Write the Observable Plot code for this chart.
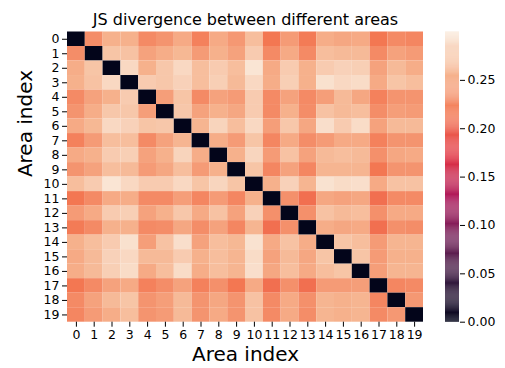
<!DOCTYPE html>
<html>
<head>
<meta charset="utf-8">
<script src="https://cdn.jsdelivr.net/npm/d3@7"></script>
<script src="https://cdn.jsdelivr.net/npm/@observablehq/plot@0.6"></script>
<style>
  html, body { margin: 0; padding: 0; background: #fff; }
  #wrap { position: relative; width: 505px; height: 368px; font-family: "DejaVu Sans", sans-serif; }
  #wrap svg { position: absolute; left: 0; top: 0; font-family: "DejaVu Sans", sans-serif; }
</style>
</head>
<body>
<div id="wrap"></div>
<script>
const title = "JS divergence between different areas";
const axisLabel = "Area index";
const areas = d3.range(20);
const colorTicks = [0, 0.05, 0.10, 0.15, 0.20, 0.25];
const colorMax = 0.30;
// rocket colormap stops
const rocketStops = ["#03051a", "#35193e", "#701f57", "#ad1759", "#e13342", "#f37651", "#f6b48f", "#faebdd"];

// JS divergence matrix (row i, column j)
const divergence = [
  [0, 0.230, 0.255, 0.255, 0.228, 0.235, 0.250, 0.222, 0.250, 0.238, 0.265, 0.215, 0.240, 0.218, 0.252, 0.248, 0.250, 0.215, 0.228, 0.225],
  [0.230, 0, 0.270, 0.268, 0.245, 0.252, 0.260, 0.240, 0.255, 0.245, 0.275, 0.228, 0.250, 0.228, 0.265, 0.262, 0.262, 0.228, 0.245, 0.240],
  [0.252, 0.270, 0, 0.285, 0.255, 0.272, 0.285, 0.265, 0.275, 0.265, 0.295, 0.250, 0.275, 0.255, 0.275, 0.280, 0.278, 0.245, 0.262, 0.252],
  [0.255, 0.268, 0.285, 0, 0.275, 0.272, 0.280, 0.265, 0.278, 0.262, 0.285, 0.252, 0.278, 0.255, 0.292, 0.285, 0.288, 0.250, 0.270, 0.265],
  [0.228, 0.245, 0.255, 0.275, 0, 0.242, 0.270, 0.228, 0.245, 0.240, 0.275, 0.228, 0.245, 0.228, 0.242, 0.262, 0.248, 0.222, 0.235, 0.235],
  [0.235, 0.252, 0.272, 0.272, 0.242, 0, 0.272, 0.245, 0.255, 0.248, 0.275, 0.228, 0.255, 0.230, 0.268, 0.262, 0.265, 0.230, 0.242, 0.240],
  [0.250, 0.260, 0.285, 0.280, 0.270, 0.272, 0, 0.258, 0.282, 0.265, 0.285, 0.242, 0.272, 0.248, 0.290, 0.275, 0.288, 0.245, 0.262, 0.262],
  [0.222, 0.240, 0.265, 0.265, 0.228, 0.245, 0.258, 0, 0.252, 0.240, 0.270, 0.225, 0.250, 0.230, 0.240, 0.250, 0.250, 0.222, 0.235, 0.235],
  [0.250, 0.255, 0.275, 0.278, 0.245, 0.255, 0.282, 0.252, 0, 0.255, 0.283, 0.240, 0.268, 0.245, 0.262, 0.265, 0.262, 0.232, 0.248, 0.250],
  [0.235, 0.245, 0.265, 0.262, 0.240, 0.248, 0.265, 0.240, 0.255, 0, 0.270, 0.225, 0.245, 0.225, 0.258, 0.258, 0.258, 0.215, 0.235, 0.235],
  [0.265, 0.275, 0.295, 0.285, 0.275, 0.275, 0.285, 0.270, 0.283, 0.270, 0, 0.255, 0.280, 0.258, 0.293, 0.288, 0.290, 0.250, 0.268, 0.268],
  [0.215, 0.228, 0.250, 0.252, 0.228, 0.228, 0.242, 0.225, 0.240, 0.225, 0.255, 0, 0.232, 0.210, 0.248, 0.245, 0.248, 0.210, 0.228, 0.228],
  [0.240, 0.250, 0.275, 0.278, 0.245, 0.255, 0.272, 0.250, 0.268, 0.245, 0.280, 0.232, 0, 0.232, 0.268, 0.262, 0.265, 0.232, 0.250, 0.250],
  [0.218, 0.228, 0.255, 0.255, 0.228, 0.230, 0.248, 0.230, 0.245, 0.225, 0.258, 0.210, 0.232, 0, 0.252, 0.248, 0.250, 0.210, 0.232, 0.230],
  [0.255, 0.265, 0.275, 0.292, 0.242, 0.268, 0.290, 0.245, 0.265, 0.260, 0.293, 0.250, 0.268, 0.252, 0, 0.270, 0.265, 0.240, 0.258, 0.258],
  [0.250, 0.262, 0.280, 0.285, 0.262, 0.262, 0.275, 0.255, 0.265, 0.258, 0.288, 0.245, 0.262, 0.248, 0.270, 0, 0.270, 0.240, 0.255, 0.255],
  [0.252, 0.262, 0.278, 0.288, 0.250, 0.265, 0.288, 0.252, 0.265, 0.258, 0.290, 0.248, 0.265, 0.250, 0.265, 0.270, 0, 0.242, 0.258, 0.258],
  [0.215, 0.228, 0.245, 0.250, 0.222, 0.230, 0.245, 0.222, 0.232, 0.215, 0.250, 0.210, 0.232, 0.210, 0.240, 0.240, 0.242, 0, 0.225, 0.228],
  [0.228, 0.245, 0.262, 0.270, 0.235, 0.242, 0.262, 0.235, 0.248, 0.235, 0.268, 0.228, 0.250, 0.232, 0.258, 0.255, 0.258, 0.225, 0, 0.238],
  [0.225, 0.240, 0.252, 0.265, 0.235, 0.240, 0.262, 0.235, 0.250, 0.235, 0.268, 0.228, 0.250, 0.230, 0.258, 0.255, 0.258, 0.228, 0.238, 0]
];

const cells = [];
divergence.forEach((row, i) => row.forEach((v, j) => cells.push({row: i, col: j, value: v})));

const rocket = d3.piecewise(d3.interpolateRgb, rocketStops);
const colorScale = {type: "linear", domain: [0, colorMax], interpolate: rocket};

const W = 505, H = 368;
const mTop = 31.5, mBottom = 46.3;

const main = Plot.plot({
  width: W, height: H,
  marginLeft: 67, marginRight: 82, marginTop: mTop, marginBottom: mBottom,
  style: {fontFamily: "DejaVu Sans, sans-serif", fontSize: "12.5px", background: "transparent"},
  x: {type: "band", domain: areas, padding: 0, round: false, axis: null},
  y: {type: "band", domain: areas, padding: 0, round: false, axis: null},
  color: colorScale,
  marks: [
    Plot.cell(cells, {x: "col", y: "row", fill: "value", inset: 0}),
    Plot.axisX({anchor: "bottom", tickSize: 5, tickPadding: 3, fontSize: 12.5, label: null, tickFormat: d => String(d)}),
    Plot.axisY({anchor: "left", tickSize: 5, tickPadding: 3, fontSize: 12.5, label: null, tickFormat: d => String(d)}),
    Plot.text([title], {frameAnchor: "top", dy: -18.5, fontSize: 16, fill: "#000"}),
    Plot.text([axisLabel], {frameAnchor: "bottom", dy: 38.5, fontSize: 20, fill: "#000"}),
    Plot.text([axisLabel], {frameAnchor: "left", dx: -42, rotate: -90, fontSize: 20, fill: "#000"})
  ]
});

const step = colorMax / 300;
const bands = d3.range(0, 300).map(k => k * step);
const bar = Plot.plot({
  width: W, height: H,
  marginLeft: 445, marginRight: 46, marginTop: mTop, marginBottom: mBottom,
  style: {fontFamily: "DejaVu Sans, sans-serif", fontSize: "12.5px", background: "transparent"},
  x: {domain: [0, 1], axis: null},
  y: {domain: [0, colorMax], axis: null},
  color: colorScale,
  marks: [
    Plot.rect(bands, {x1: 0, x2: 1, y1: d => d, y2: d => d + step * 1.02, fill: d => d + step / 2}),
    Plot.axisY({anchor: "right", ticks: colorTicks, tickSize: 5, tickPadding: 3, fontSize: 12.5, label: null, tickFormat: d3.format(".2f")})
  ]
});

const wrap = document.getElementById("wrap");
wrap.appendChild(main);
wrap.appendChild(bar);
</script>
</body>
</html>
